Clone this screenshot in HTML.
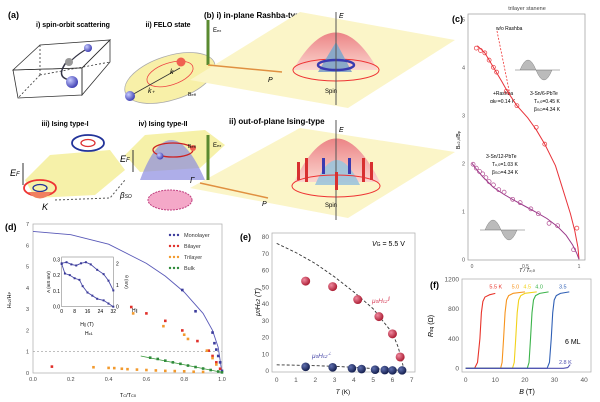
<!DOCTYPE html>
<html><head><meta charset="utf-8"><style>
html,body{margin:0;padding:0;background:#fff;}
svg{display:block;font-family:"Liberation Sans",sans-serif;}
</style></head><body>
<svg id="fig" width="600" height="402" viewBox="0 0 600 402" xmlns="http://www.w3.org/2000/svg">
<defs>
<radialGradient id="gr" cx="35%" cy="35%" r="70%"><stop offset="0" stop-color="#f08aa0"/><stop offset="1" stop-color="#a8182e"/></radialGradient>
<radialGradient id="gb" cx="35%" cy="35%" r="70%"><stop offset="0" stop-color="#6070b0"/><stop offset="1" stop-color="#101a48"/></radialGradient>
<radialGradient id="gs" cx="35%" cy="35%" r="70%"><stop offset="0" stop-color="#c8ccff"/><stop offset="1" stop-color="#3a3ab0"/></radialGradient>
<linearGradient id="dome" x1="0" y1="0" x2="0" y2="1"><stop offset="0" stop-color="#e9707a"/><stop offset="1" stop-color="#fbd0d0"/></linearGradient>
</defs>

<!-- Panel (a) -->
<g>
<text x="8" y="18" font-size="9" font-weight="bold">(a)</text>
<text x="73" y="27" font-size="7" font-weight="bold" text-anchor="middle">i) spin-orbit scattering</text>
<text x="168" y="27" font-size="7" font-weight="bold" text-anchor="middle">ii) FELO state</text>
<text x="65" y="126" font-size="7" font-weight="bold" text-anchor="middle">iii) Ising type-I</text>
<text x="163" y="126" font-size="7" font-weight="bold" text-anchor="middle">iv) Ising type-II</text>
<g fill="none" stroke="#333" stroke-width="0.8">
<polygon points="13,70 40,45 110,40 82,68"/><polygon points="13,70 82,68 82,95 18,98"/><polygon points="82,68 110,40 110,62 82,95"/>
<line x1="40" y1="45" x2="40" y2="75" stroke-dasharray="2,2"/><line x1="40" y1="75" x2="110" y2="62" stroke-dasharray="2,2"/><line x1="40" y1="75" x2="18" y2="98" stroke-dasharray="2,2"/>
<path d="M68,60 C60,70 58,78 70,80" stroke="#334" stroke-width="1.5"/><path d="M70,62 C76,55 82,52 88,48" stroke="#334" stroke-width="1.2"/>
</g>
<circle cx="69" cy="62" r="4" fill="#999"/><circle cx="72" cy="82" r="6" fill="url(#gs)"/><circle cx="88" cy="48" r="4" fill="url(#gs)"/>
<g>
<ellipse cx="170" cy="78" rx="47" ry="22" fill="#f8f0a8" stroke="#aaa" stroke-width="0.8" transform="rotate(-18 170 78)"/>
<ellipse cx="170" cy="74" rx="24" ry="11" fill="none" stroke="#e44" stroke-width="0.8" transform="rotate(-18 170 74)"/>
<line x1="130" y1="96" x2="180" y2="68" stroke="#333" stroke-width="0.8"/>
<circle cx="130" cy="96" r="5" fill="url(#gs)"/><circle cx="181" cy="62" r="4.5" fill="#f06050"/>
<text x="170" y="74" font-size="7" font-style="italic">k</text><text x="148" y="93" font-size="7" font-style="italic">k₊</text>
</g>
<g>
<polygon points="25,180 50,155 110,150 125,170 95,195 35,198" fill="#f5ee9a" opacity="0.85"/>
<ellipse cx="88" cy="143" rx="16" ry="8" fill="none" stroke="#223399" stroke-width="1.8"/><ellipse cx="88" cy="143" rx="7" ry="3.5" fill="none" stroke="#d33" stroke-width="1.3"/>
<ellipse cx="40" cy="188" rx="16" ry="8" fill="none" stroke="#e33" stroke-width="1.8"/><ellipse cx="40" cy="188" rx="7" ry="3.5" fill="none" stroke="#223399" stroke-width="1.3"/>
<path d="M28,192 Q40,205 52,192" fill="#f08060"/>
<text x="10" y="176" font-size="9" font-style="italic">E<tspan font-size="6">F</tspan></text><line x1="23" y1="185" x2="23" y2="163" stroke="#333"/>
<text x="42" y="210" font-size="9" font-style="italic">K</text>
<path d="M55,200 L110,198 L125,180" fill="none" stroke="#555" stroke-dasharray="2,2"/>
</g>
<g>
<polygon points="125,155 145,135 205,130 225,145 200,168 140,172" fill="#f5ee9a" opacity="0.85"/>
<path d="M140,180 Q170,100 205,180 Z" fill="#8c8ce0" opacity="0.7"/>
<ellipse cx="173" cy="150" rx="20" ry="7" fill="none" stroke="#c22" stroke-width="1.3"/>
<circle cx="160" cy="156" r="3.5" fill="url(#gs)"/><circle cx="193" cy="148" r="3" fill="#f06050"/>
<ellipse cx="170" cy="200" rx="22" ry="10" fill="#f4a8c8" stroke="#c04080" stroke-dasharray="2,1"/>
<text x="120" y="162" font-size="9" font-style="italic">E<tspan font-size="6">F</tspan></text><line x1="133" y1="172" x2="133" y2="150" stroke="#333"/>
<text x="120" y="198" font-size="8" font-style="italic">β<tspan font-size="5">SO</tspan></text>
<text x="190" y="183" font-size="8" font-style="italic">Γ</text>
</g>
</g>

<!-- Panel (b) -->
<g>
<text x="204" y="18" font-size="8" font-weight="bold">(b) i) in-plane Rashba-type</text>
<text x="229" y="124" font-size="8" font-weight="bold">ii) out-of-plane Ising-type</text>
<polygon points="190,80 300,12 455,40 348,108" fill="#fbf5c8"/>
<polygon points="190,188 300,128 455,152 348,218" fill="#fbf5c8"/>
<path d="M293,70 Q336,-5 378,70 Z" fill="url(#dome)" opacity="0.85"/>
<ellipse cx="336" cy="70" rx="43" ry="11" fill="none" stroke="#e33" stroke-width="1"/>
<path d="M318,72 L336,42 L352,72 Z" fill="#8aa8c8"/>
<ellipse cx="336" cy="65" rx="18" ry="5" fill="none" stroke="#3a3ab0" stroke-width="2.5"/>
<path d="M294,182 Q336,95 380,182 Z" fill="url(#dome)" opacity="0.85"/>
<path d="M315,185 Q336,135 360,185 Z" fill="#9cc4dc" opacity="0.9"/>
<ellipse cx="336" cy="186" rx="44" ry="11" fill="none" stroke="#e33"/>
<line x1="336" y1="12" x2="336" y2="105" stroke="#555"/><line x1="336" y1="120" x2="336" y2="220" stroke="#555"/>
<text x="325" y="93" font-size="6">Spin</text><text x="325" y="207" font-size="6">Spin</text>
<text x="339" y="18" font-size="7" font-style="italic">E</text><text x="339" y="132" font-size="7" font-style="italic">E</text>
<line x1="208" y1="65" x2="208" y2="20" stroke="#5a8a30" stroke-width="3"/><line x1="208" y1="180" x2="208" y2="135" stroke="#5a8a30" stroke-width="3"/>
<line x1="208" y1="65" x2="282" y2="72" stroke="#e09040" stroke-width="1.5"/><line x1="200" y1="183" x2="268" y2="198" stroke="#e09040" stroke-width="1.5"/>
<text x="213" y="32" font-size="6">E<tspan font-size="4">ex</tspan></text><text x="213" y="147" font-size="6">E<tspan font-size="4">ex</tspan></text>
<text x="268" y="82" font-size="7" font-style="italic">P</text><text x="262" y="206" font-size="7" font-style="italic">P</text>
<text x="188" y="96" font-size="5">B<tspan font-size="4">eff</tspan></text><text x="188" y="148" font-size="5">B<tspan font-size="4">eff</tspan></text>
<g fill="#d83030"><rect x="297" y="162" width="3" height="18"/><rect x="305" y="158" width="3" height="24"/><rect x="370" y="162" width="3" height="18"/><rect x="362" y="158" width="3" height="24"/><rect x="335" y="172" width="3" height="18"/></g>
<g fill="#3a3ab0"><rect x="322" y="158" width="3" height="16"/><rect x="348" y="158" width="3" height="16"/></g>
</g>

<!-- Panel (c) -->
<g id="pc">
<text x="452" y="22" font-size="9" font-weight="bold">(c)</text>
<text x="527" y="10" font-size="5.5" text-anchor="middle" fill="#444">trilayer stanene</text>
<rect x="468" y="14" width="117" height="246" fill="none" stroke="#999" stroke-width="0.7"/>
<text x="460" y="140" font-size="5" transform="rotate(-90 460 140)" text-anchor="middle">B<tspan font-size="4">c2,//</tspan>/B<tspan font-size="4">p</tspan></text>
<text x="527" y="272" font-size="5" text-anchor="middle" font-style="italic">T / T<tspan font-size="4">c,0</tspan></text>
<text x="496" y="30" font-size="5">w/o Rashba</text>
<text x="493" y="95" font-size="5">+Rashba</text><text x="490" y="103" font-size="5">αk<tspan font-size="4">F</tspan>=0.14 K</text>
<text x="530" y="95" font-size="5">3-Sn/6-PbTe</text><text x="534" y="103" font-size="5">T<tspan font-size="4">c,0</tspan>=0.45 K</text><text x="534" y="111" font-size="5">β<tspan font-size="4">SO</tspan>=4.34 K</text>
<text x="486" y="158" font-size="5">3-Sn/12-PbTe</text><text x="492" y="166" font-size="5">T<tspan font-size="4">c,0</tspan>=1.03 K</text><text x="492" y="174" font-size="5">β<tspan font-size="4">SO</tspan>=4.34 K</text>
<path d="M520,70 q8,-20 16,0 t16,0" fill="#bbb" stroke="#888" stroke-width="0.5"/><line x1="515" y1="70" x2="560" y2="70" stroke="#666" stroke-width="0.5"/>
<path d="M485,230 q8,-20 16,0 t16,0" fill="#bbb" stroke="#888" stroke-width="0.5"/><line x1="480" y1="230" x2="525" y2="230" stroke="#666" stroke-width="0.5"/>
<line x1="497" y1="31" x2="510" y2="95" stroke="#e33" stroke-dasharray="2,1.5" stroke-width="0.8"/>
</g>

<!-- Panel (d) -->
<g id="pd">
<text x="5" y="230" font-size="9" font-weight="bold">(d)</text>
<rect x="33" y="224" width="189" height="149" fill="none" stroke="#aaa" stroke-width="0.7"/>
<text x="11" y="300" font-size="5.5" transform="rotate(-90 11 300)" text-anchor="middle">H<tspan font-size="4">c2</tspan>/H<tspan font-size="4">P</tspan></text>
<text x="128" y="397" font-size="5.5" text-anchor="middle">T<tspan font-size="4">C</tspan>/T<tspan font-size="4">C0</tspan></text>
<rect x="61.7" y="257" width="51.6" height="49.7" fill="#fff" stroke="#888" stroke-width="0.6"/>
<text x="87" y="326" font-size="5" text-anchor="middle">H<tspan font-size="4">∥</tspan> (T)</text>
<text x="50" y="282" font-size="4.5" transform="rotate(-90 50 282)" text-anchor="middle">A (mS mV)</text>
<text x="125" y="282" font-size="4.5" transform="rotate(90 125 282)" text-anchor="middle">θ (mV)</text>
<text x="132" y="312" font-size="5">H<tspan font-size="4">∥</tspan></text>
<text x="85" y="335" font-size="5">H<tspan font-size="4">c1</tspan></text>
</g>

<!-- Panel (e) -->
<g id="pe">
<text x="240" y="240" font-size="9" font-weight="bold">(e)</text>
<rect x="272" y="233" width="143" height="139" fill="none" stroke="#aaa" stroke-width="0.7"/>
<text x="260" y="302" font-size="7" transform="rotate(-90 260 302)" text-anchor="middle" font-style="italic">μ<tspan font-size="5">0</tspan>H<tspan font-size="5">c2</tspan> (T)</text>
<text x="343" y="394" font-size="6.5" text-anchor="middle"><tspan font-style="italic">T</tspan> (K)</text>
<text x="372" y="246" font-size="7"><tspan font-style="italic">V</tspan><tspan font-size="5">G</tspan> = 5.5 V</text>
<text x="372" y="303" font-size="6.5" fill="#d6405a" font-style="italic">μ<tspan font-size="4.5">0</tspan>H<tspan font-size="4.5">c2</tspan><tspan font-size="4.5" dy="-3">∥</tspan></text>
<text x="312" y="358" font-size="6.5" fill="#4848a8" font-style="italic">μ<tspan font-size="4.5">0</tspan>H<tspan font-size="4.5">c2</tspan><tspan font-size="4.5" dy="-3">⊥</tspan></text>
</g>

<!-- Panel (f) -->
<g id="pf">
<text x="430" y="288" font-size="9" font-weight="bold">(f)</text>
<rect x="462" y="279" width="129" height="93" fill="none" stroke="#aaa" stroke-width="0.7"/>
<text x="433" y="326" font-size="7" transform="rotate(-90 433 326)" text-anchor="middle"><tspan font-style="italic">R</tspan><tspan font-size="5">sq</tspan> (Ω)</text>
<text x="527" y="394" font-size="7" text-anchor="middle"><tspan font-style="italic">B</tspan> (T)</text>
<text x="565" y="344" font-size="7">6 ML</text>
</g>
</svg>
<script>
const NS='http://www.w3.org/2000/svg';
function mk(parent,tag,attrs){const e=document.createElementNS(NS,tag);for(const k in attrs)e.setAttribute(k,attrs[k]);parent.appendChild(e);return e;}

// ---------- Panel (d) data ----------
const dXTicks=[0,0.2,0.4,0.6,0.8,1.0];
const dXTickLabels=['0.0','0.2','0.4','0.6','0.8','1.0'];
const dYTicks=[0,1,2,3,4,5,6,7];
const monoCurveT=[0,0.2,0.4,0.6,0.7,0.8,0.9,0.95,0.98,1.0];
const monoCurveH=[6.65,6.5,6.05,5.15,4.55,3.8,2.8,2.0,1.2,0];
const monoT=[0.79,0.86,0.95,0.96,0.97,0.98,0.99,1.0];
const monoH=[3.9,2.9,1.9,1.4,1.1,0.8,0.5,0.1];
const biT=[0.1,0.52,0.6,0.7,0.79,0.87,0.93,0.95,0.97,0.99];
const biH=[0.3,3.1,2.8,2.45,2.0,1.5,1.05,0.8,0.5,0.2];
const triT=[0.53,0.69,0.8,0.82,0.92,0.95,0.97,0.32,0.4,0.43,0.47,0.5,0.55,0.6,0.65,0.7,0.75,0.8,0.85,0.9];
const triH=[2.8,2.2,1.8,1.6,1.05,0.7,0.4,0.27,0.24,0.23,0.2,0.18,0.16,0.14,0.12,0.1,0.09,0.08,0.06,0.05];
const bulkT=[0.62,0.66,0.7,0.74,0.78,0.82,0.86,0.9,0.94,0.98,1.0];
const bulkH=[0.72,0.66,0.58,0.5,0.43,0.35,0.28,0.21,0.14,0.07,0.03];
const insetX=[0,2,5,8,11,13,16,19,22,26,29,32];
const insetA=[0.27,0.21,0.2,0.18,0.17,0.13,0.09,0.07,0.05,0.04,0.02,0.0];
const insetThX=[0,3,6,9,12,15,18,22,26,29,32];
const insetTh=[2.0,2.05,1.95,1.9,2.0,2.05,1.95,1.7,1.5,1.2,0.75];
const insetXTicks=[0,8,16,24,32];
const insetATicks=[0,0.1,0.2,0.3];
const insetATickLabels=['0.0','0.1','0.2','0.3'];
const insetThTicks=[0,1,2];
const legendNames=['Monolayer','Bilayer','Trilayer','Bulk'];
const legendColors=['#3c3c9c','#e0302a','#f29a2e','#2e8a3a'];

const dx=v=>33+v*189, dy=v=>373-v*149/7;
const ix=v=>61.7+v*51.6/32, iyA=v=>306.7-v*47.4/0.3, iyR=v=>306.7-v*21.7;
const pd=document.getElementById('pd');
dXTicks.forEach((t,i)=>{let e=mk(pd,'text',{x:dx(t),y:381,'font-size':5.5,'text-anchor':'middle',fill:'#444'});e.textContent=dXTickLabels[i];
});
dYTicks.forEach(t=>{let e=mk(pd,'text',{x:29,y:dy(t)+2,'font-size':5.5,'text-anchor':'end',fill:'#444'});e.textContent=t;
});
let hl=mk(pd,'line',{x1:dx(0),x2:dx(1),y1:dy(1),y2:dy(1),stroke:'#999','stroke-dasharray':'2,2','stroke-width':0.6});

let mc=mk(pd,'polyline',{points:monoCurveT.map((t,i)=>dx(t)+','+dy(monoCurveH[i])).join(' '),fill:'none',stroke:'#5a5ab8','stroke-width':0.9});

let bl=mk(pd,'line',{x1:dx(0.57),y1:dy(0.8),x2:dx(1.0),y2:dy(0.03),stroke:'#3a9a3a','stroke-width':0.8});

function pts(T,H,col,name){T.forEach((t,i)=>{let e=mk(pd,'rect',{x:dx(t)-1.3,y:dy(H[i])-1.3,width:2.6,height:2.6,fill:col});
});}
pts(monoT,monoH,legendColors[0],'monolayer-point');pts(biT,biH,legendColors[1],'bilayer-point');
pts(triT,triH,legendColors[2],'trilayer-point');pts(bulkT,bulkH,legendColors[3],'bulk-point');
legendNames.forEach((n,i)=>{const y=235+i*11;
for(let k=0;k<3;k++){let m=mk(pd,'circle',{cx:170+k*4,cy:y,r:1.2,fill:legendColors[i]});}
let e=mk(pd,'text',{x:184,y:y+2,'font-size':5.5,fill:'#333'});e.textContent=n;
});
insetXTicks.forEach(t=>{let e=mk(pd,'text',{x:ix(t),y:313,'font-size':5,'text-anchor':'middle'});e.textContent=t;
});
insetATicks.forEach((t,i)=>{let e=mk(pd,'text',{x:60,y:iyA(t)+2,'font-size':5,'text-anchor':'end'});e.textContent=insetATickLabels[i];
});
insetThTicks.forEach(t=>{let e=mk(pd,'text',{x:116,y:iyR(t)+2,'font-size':5});e.textContent=t;
});
let ia=mk(pd,'polyline',{points:insetX.map((x,i)=>ix(x)+','+iyA(insetA[i])).join(' '),fill:'none',stroke:'#4a4aa8','stroke-width':0.9});

let it=mk(pd,'polyline',{points:insetThX.map((x,i)=>ix(x)+','+iyR(insetTh[i])).join(' '),fill:'none',stroke:'#4a4aa8','stroke-width':0.9});

insetX.forEach((x,i)=>{let e=mk(pd,'rect',{x:ix(x)-1,y:iyA(insetA[i])-1,width:2,height:2,fill:'#3a3a98'});});
insetThX.forEach((x,i)=>{let e=mk(pd,'rect',{x:ix(x)-1,y:iyR(insetTh[i])-1,width:2,height:2,fill:'#3a3a98'});});

// ---------- Panel (e) data ----------
const eXTicks=[0,1,2,3,4,5,6,7];
const eYTicks=[0,10,20,30,40,50,60,70,80];
const parT=[1.5,2.9,4.2,5.3,6.0,6.4];
const parH=[53.5,50.2,42.5,32.3,22,8.2];
const perpT=[1.5,2.9,3.9,4.4,5.1,5.6,6.0,6.5];
const perpH=[2.3,2.0,1.4,1.0,0.6,0.4,0.2,0.2];
const parFitT=[0,1,2,3,4,5,6,6.3,6.55];
const parFitH=[76,70.5,64,56,47,37,22.5,14,3];
const perpFitT=[0,1,2,3,4,5,6,6.5];
const perpFitH=[3.5,3.3,3.0,2.6,2.0,1.3,0.6,0.1];
const ex=v=>276.7+v*19.29, ey=v=>370.7-v*1.675;
const pe=document.getElementById('pe');
eXTicks.forEach(t=>{let e=mk(pe,'text',{x:ex(t),y:382,'font-size':6.5,'text-anchor':'middle',fill:'#555'});e.textContent=t;
});
eYTicks.forEach(t=>{let e=mk(pe,'text',{x:269,y:ey(t)+2.3,'font-size':6.5,'text-anchor':'end',fill:'#555'});e.textContent=t;
});
let pf1=mk(pe,'polyline',{points:parFitT.map((t,i)=>ex(t)+','+ey(parFitH[i])).join(' '),fill:'none',stroke:'#333','stroke-dasharray':'3,2','stroke-width':0.9});

let pf2=mk(pe,'polyline',{points:perpFitT.map((t,i)=>ex(t)+','+ey(perpFitH[i])).join(' '),fill:'none',stroke:'#333','stroke-dasharray':'3,2','stroke-width':0.9});

parT.forEach((t,i)=>{let c=mk(pe,'circle',{cx:ex(t),cy:ey(parH[i]),r:4.5,fill:'url(#gr)'});});
perpT.forEach((t,i)=>{let c=mk(pe,'circle',{cx:ex(t),cy:ey(perpH[i]),r:4.3,fill:'url(#gb)'});});

// ---------- Panel (f) data ----------
const fXTicks=[0,10,20,30,40];
const fYTicks=[0,400,800,1200];
const curveLabels=['5.5 K','5.0','4.5','4.0','3.5','2.8 K'];
const curveColors=['#e8332a','#f7941d','#f2d21a','#3bb34a','#2f5fb5','#5050b0'];
const fB=[
 [0,3,4,4.8,5.3,5.8,6.5,8,10],
 [0,11.8,12.3,12.8,13.3,13.8,14.5,16,20],
 [0,15.8,16.4,16.9,17.4,17.9,18.6,20,24],
 [0,20.8,21.4,21.9,22.4,22.9,23.6,25,28],
 [0,27.5,28.3,28.9,29.4,29.9,30.6,32,35],
 [0,30,33,34.5,35.3]
];
const fR=[
 [0,0,80,400,750,900,960,990,1010],
 [0,0,80,400,750,920,980,1010,1030],
 [0,0,80,400,750,920,980,1010,1030],
 [0,0,80,400,750,920,980,1010,1030],
 [0,0,80,400,750,920,980,1010,1030],
 [0,0,0,10,50]
];
const labelB=[8,15.5,19.5,23.5,31.5,31.5];
const labelR=[1075,1075,1075,1075,1075,55];
const fx=v=>465.7+v*2.96, fy=v=>368.3-v*0.0742;
const pfG=document.getElementById('pf');
fXTicks.forEach(t=>{let e=mk(pfG,'text',{x:fx(t),y:382,'font-size':6.5,'text-anchor':'middle',fill:'#555'});e.textContent=t;
});
fYTicks.forEach(t=>{let e=mk(pfG,'text',{x:459,y:fy(t)+2.3,'font-size':6.5,'text-anchor':'end',fill:'#555'});e.textContent=t;
});
fB.forEach((bs,k)=>{let p=mk(pfG,'polyline',{points:bs.map((b,i)=>fx(b)+','+fy(fR[k][i])).join(' '),fill:'none',stroke:curveColors[k],'stroke-width':1.1,'stroke-linejoin':'round'});

let l=mk(pfG,'text',{x:fx(labelB[k]),y:fy(labelR[k]),'font-size':5.5,fill:curveColors[k]});l.textContent=curveLabels[k];
});

// ---------- Panel (c) data ----------
const cXTicks=[0,0.5,1];
const cYTicks=[0,1,2,3,4,5];
const c6T=[0.05,0.12,0.2,0.28,0.33,0.42,0.52,0.6,0.68,0.78,0.85,0.92,0.96,0.99,1.0];
const c6B=[4.45,4.3,4.0,3.7,3.5,3.2,2.95,2.7,2.4,1.95,1.45,0.95,0.6,0.25,0];
const c6PtT=[0.04,0.08,0.12,0.16,0.2,0.23,0.32,0.42,0.6,0.68,0.98];
const c6PtB=[4.4,4.35,4.3,4.15,4.0,3.9,3.5,3.2,2.75,2.4,0.65];
const c12T=[0.0,0.05,0.1,0.2,0.3,0.4,0.5,0.6,0.7,0.8,0.88,0.94,0.98,1.0];
const c12B=[2.0,1.85,1.72,1.5,1.35,1.22,1.1,0.98,0.85,0.68,0.5,0.3,0.12,0];
const c12PtT=[0.01,0.04,0.07,0.1,0.13,0.16,0.2,0.25,0.3,0.38,0.45,0.55,0.62,0.72,0.8,0.95];
const c12PtB=[1.98,1.9,1.83,1.78,1.7,1.62,1.55,1.45,1.4,1.25,1.18,1.05,0.95,0.75,0.7,0.2];
const cx=v=>472+v*107, cy=v=>259.3-v*48;
const pc=document.getElementById('pc');
cXTicks.forEach(t=>{let e=mk(pc,'text',{x:cx(t),y:268,'font-size':5,'text-anchor':'middle',fill:'#555'});e.textContent=t;
});
cYTicks.forEach(t=>{let e=mk(pc,'text',{x:465,y:cy(t)+2,'font-size':5.5,'text-anchor':'end',fill:'#555'});e.textContent=t;
});
let l6=mk(pc,'polyline',{points:c6T.map((t,i)=>cx(t)+','+cy(c6B[i])).join(' '),fill:'none',stroke:'#e8333a','stroke-width':1});

let l12=mk(pc,'polyline',{points:c12T.map((t,i)=>cx(t)+','+cy(c12B[i])).join(' '),fill:'none',stroke:'#9a3a8a','stroke-width':1});

c6PtT.forEach((t,i)=>{let c=mk(pc,'circle',{cx:cx(t),cy:cy(c6PtB[i]),r:2,fill:'none',stroke:'#e8333a','stroke-width':0.7});});
c12PtT.forEach((t,i)=>{let c=mk(pc,'circle',{cx:cx(t),cy:cy(c12PtB[i]),r:2,fill:'none',stroke:'#b04890','stroke-width':0.7});});
</script>
</body></html>
